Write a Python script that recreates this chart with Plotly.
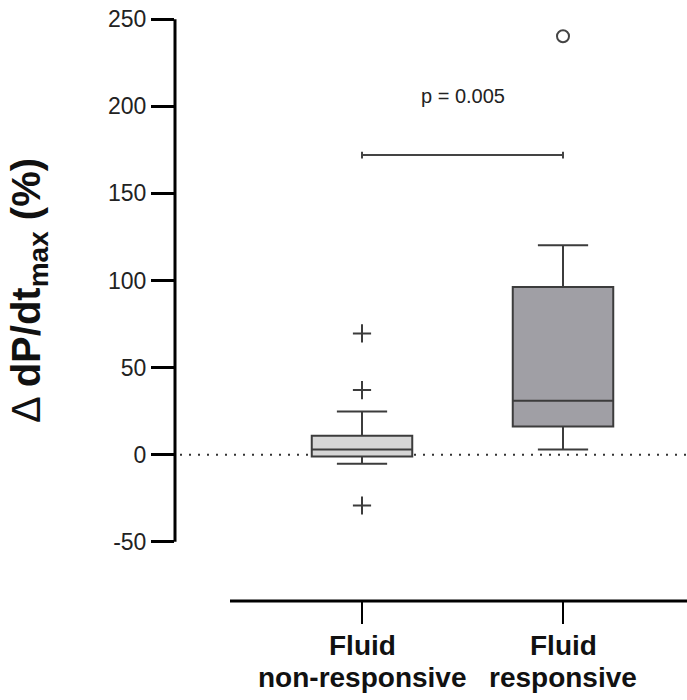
import plotly.graph_objects as go

# ---- data ----
cat_line1 = ["Fluid", "Fluid"]
cat_line2 = ["non-responsive", "responsive"]
q1 = [-1.1, 16.2]
median = [2.9, 31.0]
q3 = [10.9, 96.3]
lower_whisker = [-5.3, 3.0]
upper_whisker = [24.8, 120.2]
outliers_nonresp = [69.6, 37.1, -29.2]
outliers_resp = [240.3]
y_ticks = [-50, 0, 50, 100, 150, 200, 250]
y_tick_text = ["-50", "0", "50", "100", "150", "200", "250"]
p_label = "p = 0.005"
bracket_y = 172
p_label_y = 206

fills = ["#d6d6d6", "#a09fa5"]
edge = "#3c3c3c"
font_family = "Arial, Liberation Sans, sans-serif"

xpos = list(range(len(cat_line1)))

fig = go.Figure()
for i in xpos:
    fig.add_trace(go.Box(
        x=[xpos[i]], q1=[q1[i]], median=[median[i]], q3=[q3[i]],
        lowerfence=[lower_whisker[i]], upperfence=[upper_whisker[i]],
        width=0.5, whiskerwidth=0.5, fillcolor=fills[i],
        line=dict(color=edge, width=2), boxpoints=False,
        showlegend=False, hoverinfo="skip",
    ))

fig.add_trace(go.Scatter(
    x=[xpos[0]] * len(outliers_nonresp), y=outliers_nonresp, mode="markers",
    marker=dict(symbol="cross-thin", size=13, line=dict(color=edge, width=2)),
    showlegend=False, hoverinfo="skip"))
fig.add_trace(go.Scatter(
    x=[xpos[1]] * len(outliers_resp), y=outliers_resp, mode="markers",
    marker=dict(symbol="circle-open", size=12, color="#444444", line=dict(color="#444444", width=2)),
    showlegend=False, hoverinfo="skip"))

# plot area: x from 175px to 687px, y from 0px to 601px
W, H = 687, 700
left, bottom = 175, 99
plot_h = H - bottom
px_per_x = 201.0
x0_px = 362
x_range = [-(x0_px - left) / px_per_x, (W - x0_px) / px_per_x]
px_per_y = 1.7413
y_range = [-50 - (601 - 541.7) / px_per_y, 250 + 19.3 / px_per_y]

shapes = [
    # y axis line
    dict(type="line", xref="paper", yref="y", x0=0, x1=0, y0=y_ticks[0], y1=y_ticks[-1],
         line=dict(color="black", width=3)),
    # x axis line (offset from y axis)
    dict(type="line", xref="x", yref="paper", x0=x_range[0] + 55 / px_per_x, x1=x_range[1],
         y0=0, y1=0, line=dict(color="black", width=3)),
    # dotted zero line
    dict(type="line", xref="paper", yref="y", x0=5 / 512, x1=1, y0=0, y1=0,
         line=dict(color="#333333", width=2, dash="2px,7px"), layer="below"),
    # significance bracket
    dict(type="line", xref="x", yref="y", x0=xpos[0], x1=xpos[1], y0=bracket_y, y1=bracket_y,
         line=dict(color="#444444", width=2)),
    dict(type="line", xref="x", yref="y", x0=xpos[0], x1=xpos[0], y0=bracket_y - 2, y1=bracket_y + 2,
         line=dict(color="#444444", width=2)),
    dict(type="line", xref="x", yref="y", x0=xpos[1], x1=xpos[1], y0=bracket_y - 2, y1=bracket_y + 2,
         line=dict(color="#444444", width=2)),
]

annotations = [
    dict(text=p_label, x=(xpos[0] + xpos[1]) / 2, y=p_label_y, xref="x", yref="y",
         showarrow=False, font=dict(family=font_family, size=20, color="#222222")),
    dict(text="Δ <b>dP/dt<sub>max</sub> (%)</b>", textangle=-90,
         x=(29 - left) / (W - left), xref="paper", y=94, yref="y",
         xanchor="center", yanchor="middle", showarrow=False,
         font=dict(family=font_family, size=40, color="#111111")),
]
for i in xpos:
    annotations.append(dict(text="<b>" + cat_line1[i] + "</b>", x=xpos[i], xref="x",
                            y=(plot_h - 645) / plot_h, yref="paper", yanchor="middle",
                            showarrow=False,
                            font=dict(family=font_family, size=28, color="#111111")))
    annotations.append(dict(text="<b>" + cat_line2[i] + "</b>", x=xpos[i], xref="x",
                            y=(plot_h - 678) / plot_h, yref="paper", yanchor="middle",
                            showarrow=False,
                            font=dict(family=font_family, size=28, color="#111111")))

fig.update_layout(
    width=W, height=H,
    margin=dict(l=left, r=0, t=0, b=bottom, pad=0),
    paper_bgcolor="white", plot_bgcolor="white",
    shapes=shapes, annotations=annotations,
    xaxis=dict(range=x_range, tickvals=xpos, showticklabels=False,
               ticks="outside", ticklen=22, tickwidth=2, tickcolor="black",
               showline=False, showgrid=False, zeroline=False),
    yaxis=dict(range=y_range, tickvals=y_ticks, ticktext=y_tick_text,
               ticks="outside", ticklen=23, tickwidth=3,
               tickcolor="black", showline=False, showgrid=False, zeroline=False,
               tickfont=dict(family=font_family, size=23, color="#222222")),
)

fig.write_html("out.html")
